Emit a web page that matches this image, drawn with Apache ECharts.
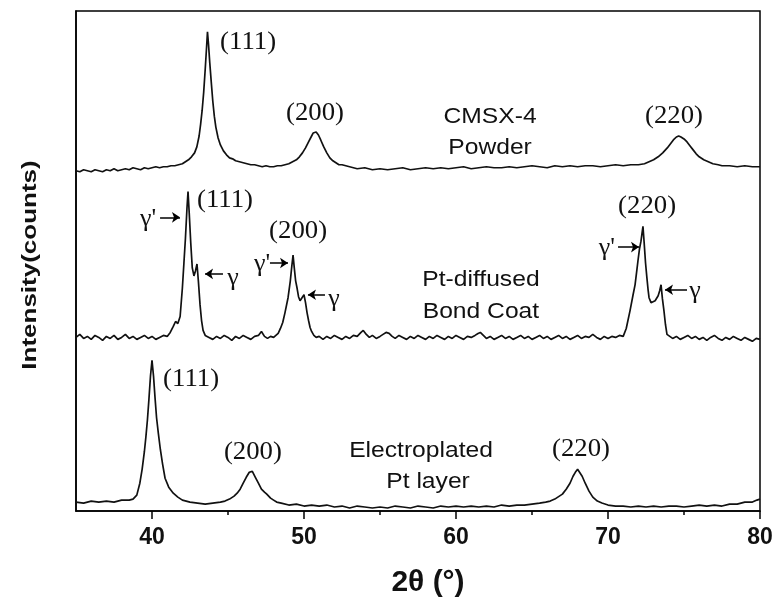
<!DOCTYPE html>
<html>
<head>
<meta charset="utf-8">
<script src="https://cdn.jsdelivr.net/npm/echarts@6/dist/echarts.min.js"></script>
<style>html,body{margin:0;padding:0;background:#fff}#c{width:776px;height:603px}</style>
</head>
<body>
<div id="c"></div>
<script>
// ---- data (2θ in degrees, intensity in arbitrary offset units) ----
const xTicks = [40, 50, 60, 70, 80];
const xMinorTicks = [45, 55, 65, 75];

const cmsxPowder = [
[35.0,343],[35.25,342],[35.5,344],[35.75,343],[36.0,342],[36.25,344],[36.5,343],[36.75,342],[37.0,344],[37.25,343],[37.5,345],[37.75,343],
[38.0,344],[38.25,345],[38.5,344],[38.75,346],[39.0,345],[39.25,344],[39.5,346],[39.75,345],[40.0,346],[40.25,347],[40.5,346],[40.75,347],
[41.0,347],[41.25,348],[41.5,348],[41.75,349],[42.0,350],[42.2,352],[42.4,354],[42.6,357],[42.8,361],[42.95,367],[43.1,378],[43.2,390],
[43.3,404],[43.4,422],[43.5,445],[43.58,465],[43.65,483],[43.72,470],[43.8,452],[43.9,432],[44.0,413],[44.1,398],[44.2,387],[44.35,376],
[44.5,369],[44.7,363],[44.9,359],[45.1,356],[45.3,355],[45.5,353],[45.75,352],[46.0,351],[46.25,350],[46.5,349],[46.75,349],[47.0,348],
[47.25,347],[47.5,348],[47.75,347],[48.0,347],[48.25,348],[48.5,348],[48.75,349],[49.0,350],[49.25,352],[49.5,354],[49.7,357],[49.9,361],
[50.1,366],[50.3,372],[50.5,378],[50.6,381],[50.7,383],[50.8,382],[50.95,379],[51.1,374],[51.3,367],[51.5,361],[51.7,356],[51.9,353],
[52.1,351],[52.3,349],[52.5,349],[52.6,350],[52.75,348],[53.0,347],[53.25,346],[53.5,345],[54,346],[54.5,344],[55,345],[55.5,344],
[56,345],[56.5,346],[57,344],[57.5,345],[58,346],[58.5,345],[59,346],[59.5,345],[60,346],[60.5,347],[61,345],[61.5,346],[62,347],
[62.5,346],[63,346],[63.5,347],[64,346],[64.5,347],[65,348],[65.5,347],[66,346],[66.5,348],[67,347],[67.5,348],[68,347],[68.5,348],
[69,348],[69.5,347],[70,348],[70.5,349],[71,348],[71.5,349],[72,349],[72.4,350],[72.7,352],[73.0,354],[73.3,357],[73.6,361],[73.9,366],
[74.1,370],[74.3,374],[74.5,377],[74.65,378],[74.8,377],[75.0,375],[75.2,372],[75.4,368],[75.6,364],[75.8,360],[76.0,357],[76.3,354],
[76.6,352],[76.9,350],[77.25,349],[77.5,348],[78,348],[78.5,347],[79,348],[79.5,347],[80,347]
];

const ptDiffused = [
[35.0,175],[35.25,178],[35.5,174],[35.75,176],[36.0,173],[36.25,177],[36.5,175],[36.75,172],[37.0,176],[37.25,174],[37.5,177],[37.75,173],
[38.0,175],[38.25,178],[38.5,174],[38.75,176],[39.0,173],[39.25,175],[39.5,177],[39.75,174],[40.0,176],[40.25,173],[40.5,175],[40.75,177],
[41.0,176],[41.2,180],[41.4,186],[41.55,191],[41.7,189],[41.85,196],[42.0,225],[42.1,250],[42.2,275],[42.3,305],[42.37,322],[42.45,300],
[42.55,270],[42.65,245],[42.76,237],[42.86,242],[42.96,249],[43.05,232],[43.16,208],[43.26,192],[43.36,182],[43.5,177],[43.75,175],
[44.0,173],[44.25,176],[44.5,174],[44.75,177],[45.0,175],[45.25,172],[45.5,176],[45.75,174],[46.0,177],[46.25,175],[46.5,173],[46.75,176],
[47.0,177],[47.2,181],[47.4,176],[47.6,174],[47.8,176],[48.0,175],[48.15,177],[48.3,179],[48.45,184],[48.6,190],[48.75,200],[48.95,215],
[49.1,232],[49.2,247],[49.28,258],[49.36,245],[49.45,232],[49.54,225],[49.64,216],[49.74,212],[49.87,215],[50.0,218],[50.1,210],[50.2,200],
[50.3,192],[50.4,185],[50.5,181],[50.65,177],[50.8,175],[51.0,176],[51.25,173],[51.5,176],[51.75,174],[52.0,177],[52.25,175],[52.5,173],
[52.75,176],[53.0,174],[53.25,177],[53.5,176],[53.75,180],[53.9,182],[54.1,178],[54.3,175],[54.5,177],[54.75,174],[55.0,176],[55.2,178],
[55.4,180],[55.6,179],[55.8,176],[56.0,174],[56.25,177],[56.5,175],[56.75,173],[57.0,176],[57.25,174],[57.5,177],[57.75,175],[58.0,173],
[58.25,176],[58.5,174],[58.75,177],[59.0,175],[59.25,173],[59.5,176],[59.75,174],[60.0,177],[60.25,175],[60.5,173],[60.75,176],[61.0,175],
[61.25,177],[61.45,179],[61.6,180],[61.8,177],[62.0,174],[62.25,176],[62.5,173],[62.75,175],[63.0,177],[63.25,174],[63.5,176],[63.75,173],
[64.0,175],[64.25,177],[64.5,174],[64.75,176],[65.0,173],[65.25,175],[65.5,177],[65.75,174],[66.0,176],[66.25,173],[66.5,175],[66.75,177],
[67.0,174],[67.25,176],[67.5,173],[67.75,175],[68.0,177],[68.25,174],[68.5,176],[68.75,175],[69.0,178],[69.25,175],[69.5,173],[69.75,176],
[70.0,174],[70.25,176],[70.5,175],[70.75,177],[71.0,176],[71.2,184],[71.45,202],[71.65,218],[71.78,228],[71.9,243],[71.97,252],[72.07,264],
[72.17,272],[72.24,280],[72.3,287],[72.38,270],[72.47,250],[72.56,235],[72.63,224],[72.7,215],[72.83,210],[72.96,208],[73.1,212],[73.3,217],
[73.4,222],[73.49,228],[73.58,214],[73.68,202],[73.78,188],[73.88,178],[74.0,176],[74.25,174],[74.5,176],[74.75,173],[75.0,175],[75.25,177],
[75.5,174],[75.75,176],[76.0,173],[76.25,175],[76.5,172],[76.75,175],[77.0,177],[77.25,174],[77.5,172],[77.75,175],[78.0,173],[78.25,176],
[78.5,174],[78.75,172],[79.0,175],[79.25,173],[79.5,171],[79.75,174],[80.0,173]
];

const ptLayer = [
[35.0,9],[35.5,8],[36.0,10],[36.5,9],[37.0,10],[37.5,9],[38.0,11],[38.5,11],[38.75,12],[39.0,16],[39.2,28],[39.35,42],[39.5,60],[39.6,75],
[39.7,92],[39.8,113],[39.9,136],[40.0,152],[40.1,136],[40.2,114],[40.3,94],[40.42,78],[40.55,62],[40.7,47],[40.86,33],[41.1,24],[41.4,18],
[41.7,14],[42.0,11],[42.5,9],[43.0,8],[43.5,7],[44.0,8],[44.5,9],[44.8,10],[45.1,12],[45.4,15],[45.6,18],[45.8,22],[46.0,28],[46.2,34],
[46.4,39],[46.5,41],[46.6,40],[46.8,34],[47.0,28],[47.2,22],[47.4,19],[47.55,17],[47.8,13],[48.0,11],[48.2,9],[48.5,8],[49.0,6],[49.5,7],
[50,5],[50.5,6],[51,5],[51.5,6],[52,4],[52.5,5],[53,3],[53.5,5],[54,4],[54.5,3],[55,4],[55.5,3],[56,5],[56.5,4],[57,3],[57.5,5],[58,4],
[58.5,3],[59,5],[59.5,4],[60,5],[60.5,4],[61,5],[61.5,4],[62,5],[62.5,4],[63,6],[63.5,5],[64,6],[64.5,6],[65,7],[65.5,8],[65.9,9],[66.2,10],
[66.5,12],[66.8,15],[67.0,17],[67.25,22],[67.5,28],[67.7,35],[67.85,39],[68.0,42],[68.1,41],[68.3,35],[68.5,28],[68.75,20],[69.0,14],
[69.3,10],[69.6,8],[70.0,6],[70.5,5],[71,5],[71.5,4],[72,5],[72.5,4],[73,5],[73.5,4],[74,5],[74.5,5],[75,4],[75.5,5],[76,6],[76.5,5],
[77,6],[77.5,5],[78,7],[78.5,7],[79,9],[79.5,9],[79.8,11],[80,12]
];

// annotation anchors (data coordinates) and texts
const hklLabels = [
[46.32,472,'(111)'],[50.72,401,'(200)'],[74.34,398,'(220)'],
[44.80,313,'(111)'],[49.61,282,'(200)'],[72.57,307,'(220)'],
[42.57,133,'(111)'],[46.64,59,'(200)'],[68.22,62,'(220)']
];
const phaseLabels = [
[39.74,294,"γ'"],[45.33,235,'γ'],[47.24,249,"γ'"],[51.97,214,'γ'],[69.93,265,"γ'"],[75.72,222,'γ']
];
const sampleLabels = [
[62.24,397,'CMSX-4'],[62.24,366,'Powder'],
[61.64,233,'Pt-diffused'],[61.64,201,'Bond Coat'],
[57.70,61,'Electroplated'],[58.16,29,'Pt layer']
];
const arrows = [
[[40.53,296],[41.84,296]],[[44.67,239],[43.49,239]],
[[47.76,250],[48.95,250]],[[51.38,218],[50.26,218]],
[[70.66,266],[72.04,266]],[[75.2,223],[73.75,223]]
];

const chart = echarts.init(document.getElementById('c'));
const lineStyle = { color: '#111', width: 1.7 };
function curve(name, data, extra) {
  return Object.assign({
    name, type: 'line', data, showSymbol: false, symbol: 'none',
    lineStyle, silent: true, animation: false, z: 3
  }, extra || {});
}

const option = {
  animation: false,
  backgroundColor: '#fff',
  grid: { left: 76, right: 16, top: 11, bottom: 88, show: true, borderColor: '#000', borderWidth: 1.5, containLabel: false },
  xAxis: [{
    type: 'value', min: 35, max: 80, interval: 5,
    splitLine: { show: false },
    axisLine: { show: true, lineStyle: { color: '#000', width: 1.5 } },
    axisTick: { show: true, customValues: xTicks, length: 8, lineStyle: { color: '#000', width: 1.5 } },
    axisLabel: { customValues: xTicks, margin: 15, color: '#111', fontSize: 23, fontWeight: 'bold', fontFamily: 'Liberation Sans, Arial, sans-serif' },
    name: '2θ (°)', nameLocation: 'middle', nameGap: 57,
    nameTextStyle: { fontSize: 30, fontWeight: 'bold', color: '#111', fontFamily: 'Liberation Sans, Arial, sans-serif', padding: [0, 0, 0, 20] }
  }, {
    type: 'value', min: 35, max: 80, interval: 5, position: 'bottom',
    splitLine: { show: false },
    axisLine: { show: false },
    axisTick: { show: true, customValues: xMinorTicks, length: 4, lineStyle: { color: '#000', width: 1.5 } },
    axisLabel: { show: false }
  }],
  yAxis: {
    type: 'value', min: 0, max: 504,
    splitLine: { show: false },
    axisLine: { show: true, lineStyle: { color: '#000', width: 1.5 } },
    axisTick: { show: false },
    axisLabel: { show: false }
  },
  series: [
    curve('CMSX-4 Powder', cmsxPowder),
    curve('Pt-diffused Bond Coat', ptDiffused, {
      markLine: {
        silent: true, animation: false, symbol: ['none', 'arrow'], symbolSize: 8,
        lineStyle: { color: '#000', width: 1.5, type: 'solid' },
        label: { show: false },
        data: arrows.map(a => [{ coord: a[0] }, { coord: a[1] }])
      }
    }),
    curve('Electroplated Pt layer', ptLayer)
  ]
};
chart.setOption(option);

const toPx = p => chart.convertToPixel({ xAxisIndex: 0, yAxisIndex: 0 }, p);
const graphics = [];
function addText(x, y, text, font, scaleX) {
  const p = toPx([x, y]);
  graphics.push({
    type: 'text', x: p[0], y: p[1], scaleX: scaleX || 1, silent: true, z: 10,
    style: { text, font, fill: '#111', align: 'center', verticalAlign: 'middle', textAlign: 'center', textVerticalAlign: 'middle' }
  });
}
hklLabels.forEach(l => addText(l[0], l[1], l[2], '25px "Liberation Serif", "Times New Roman", serif', 1.07));
phaseLabels.forEach(l => addText(l[0], l[1], l[2], '26px "Liberation Serif", "Times New Roman", serif', 1.0));
sampleLabels.forEach(l => addText(l[0], l[1], l[2], '22px "Liberation Sans", Arial, sans-serif', 1.12));
// y axis title
graphics.push({
  type: 'text', x: 30, y: 265, rotation: Math.PI / 2, scaleX: 1.3, silent: true,
  style: { text: 'Intensity(counts)', font: 'bold 20px "Liberation Sans", Arial, sans-serif', fill: '#111',
    align: 'center', verticalAlign: 'middle', textAlign: 'center', textVerticalAlign: 'middle' }
});
chart.setOption({ graphic: graphics });
</script>
</body>
</html>
